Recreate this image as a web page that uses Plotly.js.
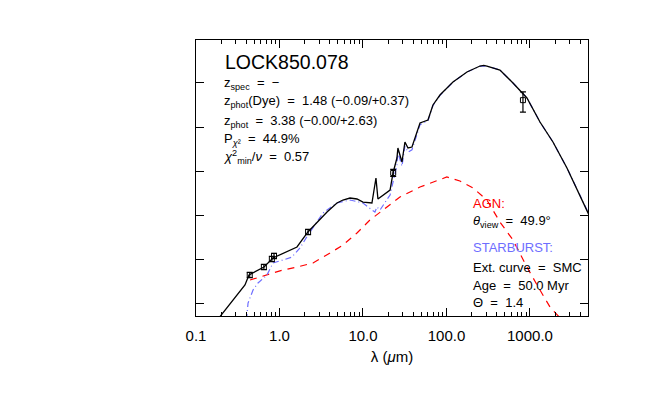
<!DOCTYPE html>
<html>
<head>
<meta charset="utf-8">
<script src="https://cdn.plot.ly/plotly-3.0.1.min.js"></script>
<style>
  body { margin: 0; background: #fff; }
  #MainGraphView { width: 653px; height: 396px; }
</style>
</head>
<body>
<div id="MainGraphView"></div>
<script>
// SED of LOCK850.078 : wavelength in micron, flux as log10 (arbitrary units)
var lambdaTotal = [0.188, 0.386, 0.431, 0.652, 0.835, 1.34, 1.62, 2.19, 3.71, 4.88, 5.75, 6.99, 8.47, 10.0, 12.8,
                   14.3, 15.1, 21.1, 22.9, 25.5, 26.2, 29.3, 31.8, 34.6, 38.6, 48.2, 52.3, 60.0, 68.9, 83.6,
                   119.6, 176, 252, 280, 305, 437, 626, 920, 1318, 1885, 2773, 4820, 5240];
var fluxTotal = [-0.34, 0.409, 0.636, 0.818, 1.023, 1.205, 1.273, 1.614, 2.068, 2.273, 2.341, 2.386, 2.364, 2.295, 2.273,
                 2.841, 2.364, 2.568, 2.955, 3.295, 3.523, 3.205, 3.659, 3.523, 3.545, 4.091, 4.114, 4.159, 4.5, 4.727,
                 5.023, 5.25, 5.386, 5.40, 5.386, 5.295, 5.0, 4.659, 4.114, 3.659, 3.068, 2.114, 1.95];

var lambdaSB = [0.403, 0.420, 0.482, 0.553, 0.708, 0.836, 1.10, 1.41, 1.76, 2.19, 3.32, 4.88, 6.99, 10.0, 12.8,
                13.9, 14.7, 16.0, 21.1, 22.9, 25.5, 26.2, 29.3, 31.8, 34.6, 38.6, 48.2, 52.3, 60.0, 68.9,
                83.6, 119.6, 176, 252, 305, 437, 626, 920, 1318, 1885, 2773, 4820, 5240];
var fluxSB = [-0.386, 0, 0.295, 0.455, 0.636, 0.909, 0.977, 1.045, 1.25, 1.545, 2.045, 2.273, 2.341, 2.273, 2.114,
              2.068, 2.182, 2.114, 2.455, 2.75, 3.136, 3.43, 3.11, 3.57, 3.43, 3.48, 4.05, 4.09, 4.14, 4.49,
              4.72, 5.02, 5.25, 5.385, 5.385, 5.295, 5.0, 4.659, 4.114, 3.659, 3.068, 2.114, 1.95];

var lambdaAGN = [0.444, 0.708, 1.10, 1.62, 2.52, 4.03, 5.76, 8.47, 12.1, 17.4, 27.7, 48.2,
                 68.9, 101, 145, 208, 305, 437, 626, 920, 1318, 1738, 2416];
var fluxAGN = [0.523, 0.636, 0.75, 0.818, 0.909, 1.136, 1.318, 1.591, 1.886, 2.114, 2.409, 2.636,
               2.75, 2.864, 2.773, 2.614, 2.341, 1.841, 1.432, 0.818, 0.295, -0.091, -0.386];

var lambdaObs = [0.44, 0.65, 0.81, 0.86, 2.2, 23, 824];
var fluxObs = [0.636, 0.818, 1.0, 1.07, 1.614, 2.955, 4.61];
var errPlus = [0.06, 0.06, 0.06, 0.06, 0.06, 0.08, 0.19];
var errMinus = [0.06, 0.06, 0.06, 0.06, 0.06, 0.08, 0.27];

var majorTicks = [0.1, 1, 10, 100, 1000];
var majorLabels = ['0.1', '1.0', '10.0', '100.0', '1000.0'];
var yTicks = [0, 1, 2, 3, 4, 5];

// minor ticks 2..9 in every decade
var minorTicks = [];
for (var d = 0.1; d < 5000; d *= 10) {
    for (var m = 2; m <= 9; m++) {
        if (m * d < 5000) minorTicks.push(m * d);
    }
}

var FONT = 'Liberation Sans, Arial, Helvetica, sans-serif';
var RED = '#ff0000';
var BLUE = '#6e6eff';
var S = '\u00A0\u00A0'; // wide gap around "=" like the original

var traceAGN = {
    x: lambdaAGN, y: fluxAGN, type: 'scatter', mode: 'lines',
    line: {color: RED, width: 1.2, dash: '7px,6px'}, hoverinfo: 'skip'
};
var traceSB = {
    x: lambdaSB, y: fluxSB, type: 'scatter', mode: 'lines',
    line: {color: BLUE, width: 1.2, dash: '6px,3px,1px,3px'}, hoverinfo: 'skip'
};
var traceTotal = {
    x: lambdaTotal, y: fluxTotal, type: 'scatter', mode: 'lines',
    line: {color: 'black', width: 1.3}, hoverinfo: 'skip'
};
var traceObs = {
    x: lambdaObs, y: fluxObs, type: 'scatter', mode: 'markers',
    marker: {symbol: 'square-open', size: 5, color: 'black', line: {width: 1}},
    error_y: {type: 'data', symmetric: false, array: errPlus, arrayminus: errMinus,
              color: 'black', thickness: 1.2, width: 3}
};
// empty trace so the minor-tick axis is drawn
var traceMinor = {x: [1], y: [0], xaxis: 'x2', type: 'scatter', mode: 'markers',
                  marker: {opacity: 0}, hoverinfo: 'skip'};

var data = [traceAGN, traceSB, traceTotal, traceObs, traceMinor];

var txt = {color: 'black', size: 13, family: FONT};
function note(x, y, text, font) {
    return {xref: 'paper', yref: 'paper', x: x, y: y, text: text, showarrow: false,
            xanchor: 'left', yanchor: 'middle', font: font || txt};
}

var layout = {
    width: 653, height: 396,
    margin: {l: 196, r: 65, t: 40, b: 80},
    paper_bgcolor: 'white', plot_bgcolor: 'white',
    showlegend: false,
    font: {family: FONT, color: 'black'},
    xaxis: {
        type: 'log', range: [-1, 3.695],
        tickvals: majorTicks, ticktext: majorLabels,
        ticks: 'inside', ticklen: 8, tickwidth: 1, tickcolor: 'black',
        showline: true, linecolor: 'black', linewidth: 1, mirror: 'ticks',
        showgrid: false, zeroline: false,
        tickfont: {size: 15, family: FONT}, ticklabelstandoff: 6,
        title: {text: 'λ (<i>μ</i>m)', font: {size: 15, family: FONT}, standoff: 8}
    },
    xaxis2: {
        type: 'log', range: [-1, 3.695], overlaying: 'x',
        tickvals: minorTicks, showticklabels: false,
        ticks: 'inside', ticklen: 4, tickwidth: 1, tickcolor: 'black',
        showline: true, linecolor: 'black', mirror: 'ticks',
        showgrid: false, zeroline: false
    },
    yaxis: {
        range: [-0.295, 5.977],
        tickvals: yTicks, showticklabels: false,
        ticks: 'inside', ticklen: 8, tickwidth: 1, tickcolor: 'black',
        showline: true, linecolor: 'black', linewidth: 1, mirror: 'ticks',
        showgrid: false, zeroline: false
    },
    annotations: [
        note(0.070, 0.920, 'LOCK850.078', {color: 'black', size: 19.5, family: FONT}),
        note(0.066, 0.8406, 'z<sub>spec</sub>' + S + '=' + S + '−'),
        note(0.066, 0.7754, 'z<sub>phot</sub>(Dye)' + S + '=' + S + '1.48 (−0.09/+0.37)'),
        note(0.066, 0.7065, 'z<sub>phot</sub>' + S + '=' + S + '3.38 (−0.00/+2.63)'),
        note(0.066, 0.6413, 'P<sub><i>χ</i>²</sub>' + S + '=' + S + '44.9%'),
        note(0.066, 0.5761, '<i>χ</i><sup>2</sup><sub>min</sub>/<i>ν</i>' + S + '=' + S + '0.57'),
        note(0.7015, 0.4058, 'AGN:', {color: RED, size: 13, family: FONT}),
        note(0.7015, 0.3406, '<i>θ</i><sub>view</sub>' + S + '=' + S + '49.9°'),
        note(0.7015, 0.250, 'STARBURST:', {color: BLUE, size: 13, family: FONT}),
        note(0.7015, 0.1775, 'Ext. curve' + S + '=' + S + 'SMC'),
        note(0.7015, 0.1123, 'Age' + S + '=' + S + '50.0 Myr'),
        note(0.7015, 0.0507, 'Θ' + S + '=' + S + '1.4')
    ]
};

Plotly.newPlot('MainGraphView', data, layout, {staticPlot: true});
</script>
</body>
</html>
